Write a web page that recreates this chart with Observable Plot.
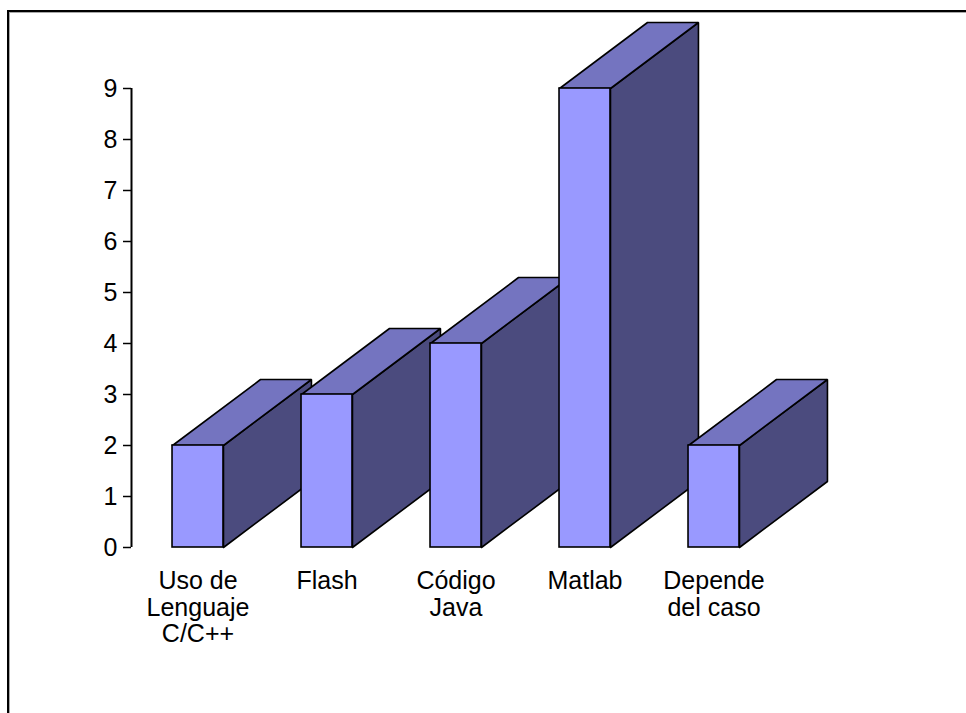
<!DOCTYPE html>
<html><head><meta charset="utf-8">
<script src="https://cdn.jsdelivr.net/npm/d3@7"></script>
<script src="https://cdn.jsdelivr.net/npm/@observablehq/plot@0.6"></script>
<style>
html,body{margin:0;padding:0;background:#fff;width:966px;height:713px;overflow:hidden;}
#frame{position:absolute;left:7px;top:10px;width:1000px;height:800px;border-left:2px solid #000;border-top:2px solid #000;box-shadow: inset 1px 1px 0 #a8a8a8;}
#chart{position:absolute;left:0;top:0;}
</style></head><body>
<div id="frame"></div>
<div id="chart"></div>
<script>
const categories = ["Uso de\nLenguaje\nC/C++", "Flash", "Código\nJava", "Matlab", "Depende\ndel caso"];
const values = [2, 3, 4, 9, 2];
const yTicks = [0, 1, 2, 3, 4, 5, 6, 7, 8, 9];

// 3D look (chart style, in scale units)
const gap = 0.318, barW = 0.395, depthX = 0.682, depthY = 1.294;

const fronts = categories.map((c, i) => ({cat: c, v: values[i], x1: i + gap, x2: i + gap + barW}));
const sides = [], tops = [];
fronts.forEach((b, i) => {
  const pts = [[b.x2, 0], [b.x2, b.v], [b.x2 + depthX, b.v + depthY], [b.x2 + depthX, depthY], [b.x2, 0]];
  pts.forEach(([x, y]) => sides.push({id: i, x, y}));
  const tp = [[b.x1, b.v], [b.x2, b.v], [b.x2 + depthX, b.v + depthY], [b.x1 + depthX, b.v + depthY], [b.x1, b.v]];
  tp.forEach(([x, y]) => tops.push({id: i, x, y}));
});

const font = "'Liberation Sans', Arial, sans-serif";
const chart = Plot.plot({
  width: 966, height: 713,
  marginLeft: 131, marginRight: 190, marginTop: 88, marginBottom: 166,
  x: {domain: [0, 5], axis: null},
  y: {domain: [0, 9], axis: null},
  style: {fontFamily: font, fontSize: "25px", color: "#000", background: "transparent", overflow: "visible"},
  marks: [
    Plot.line(sides, {x: "x", y: "y", z: "id", fill: "#4B4B7E", stroke: "#000", strokeWidth: 1.6, strokeLinejoin: "miter"}),
    Plot.line(tops, {x: "x", y: "y", z: "id", fill: "#7474C0", stroke: "#000", strokeWidth: 1.6, strokeLinejoin: "miter"}),
    Plot.rect(fronts, {x1: "x1", x2: "x2", y1: 0, y2: "v", fill: "#9999FF", stroke: "#000", strokeWidth: 1.6}),
    Plot.axisY(yTicks, {tickSize: 8, tickPadding: 6, tickFormat: d => String(d), fontSize: 25, stroke: "#000", strokeWidth: 1.5, fill: "#000"}),
    Plot.ruleX([0], {y1: 0, y2: 9, stroke: "#000", strokeWidth: 2}),
    Plot.text(fronts, {x: d => (d.x1 + d.x2) / 2, y: 0, text: "cat", lineAnchor: "top", dy: 23, fontSize: 25, lineHeight: 1.06, fill: "#000"})
  ]
});
document.getElementById("chart").appendChild(chart);
</script>
</body></html>
